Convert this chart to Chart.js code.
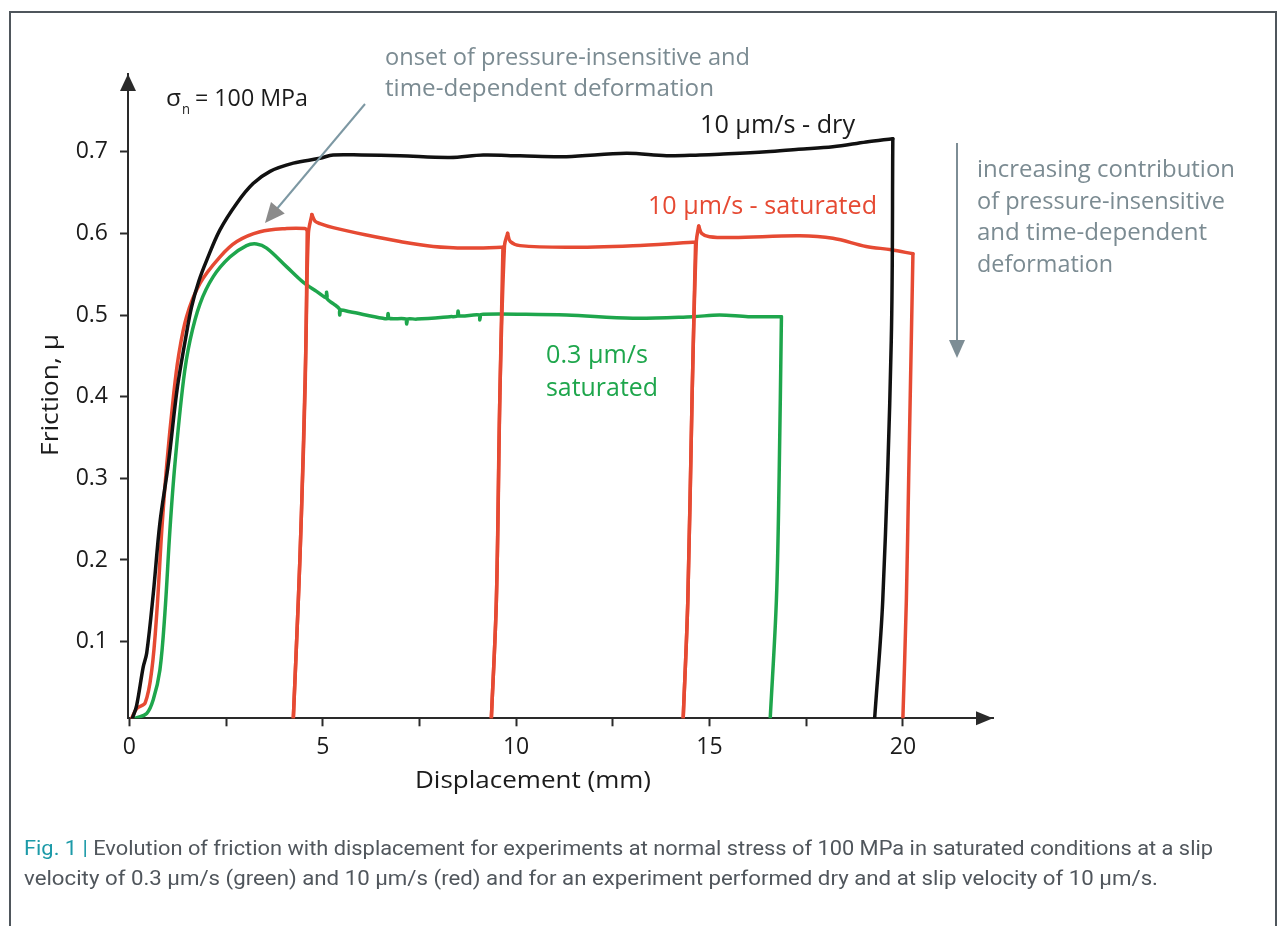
<!DOCTYPE html>
<html>
<head>
<meta charset="utf-8">
<title>Friction vs displacement</title>
<script src="https://cdn.jsdelivr.net/npm/chart.js@4.4.1/dist/chart.umd.min.js"></script>
<style>
  html, body { margin: 0; padding: 0; background: #ffffff; }
  body { width: 1277px; height: 926px; position: relative; overflow: hidden; }
  #frame { position: absolute; left: 9px; top: 11px; width: 1268px; height: 1000px;
           border: 2px solid #4f565c; box-sizing: border-box; }
  #plot { position: absolute; left: 0; top: 0; }
  .cap { position: absolute; left: 24px; font-family: Roboto, "DejaVu Sans", sans-serif;
         font-size: 21px; line-height: 24px; color: #50565c; white-space: nowrap;
         transform-origin: 0 0; display: inline-block; }
  .cap .fig { color: #1c9aa8; }
</style>
</head>
<body>
<div id="frame"></div>
<canvas id="plot" width="1277" height="926"></canvas>
<div class="cap" id="cap1" data-w="1189" style="top:836px"><span class="fig">Fig. 1 |</span> Evolution of friction with displacement for experiments at normal stress of 100 MPa in saturated conditions at a slip</div>
<div class="cap" id="cap2" data-w="1134" style="top:866px">velocity of 0.3 μm/s (green) and 10 μm/s (red) and for an experiment performed dry and at slip velocity of 10 μm/s.</div>
<script>
// ---- data: displacement (mm) and friction coefficient for each run ----
const dryX  = [0.08, 0.19, 0.36, 0.45, 0.62, 0.79, 1.01, 1.18, 1.27, 1.45,
               1.61, 1.80, 2.00, 2.34, 2.78, 3.20, 3.64, 4.24, 4.93, 5.27,
               6.00, 7.00, 8.29, 9.15, 10.10, 11.30, 12.85, 13.89, 14.75, 15.26,
               16.47, 17.30, 18.19, 19.05, 19.74, 19.70, 19.48, 19.27];
const dryMu = [0.006, 0.022, 0.069, 0.086, 0.159, 0.245, 0.318, 0.388, 0.420, 0.470,
               0.510, 0.542, 0.567, 0.604, 0.637, 0.661, 0.676, 0.686, 0.692, 0.696,
               0.696, 0.695, 0.693, 0.696, 0.695, 0.694, 0.698, 0.695, 0.696, 0.697,
               0.700, 0.703, 0.706, 0.712, 0.716, 0.469, 0.151, 0.006];
const dryCorners = [34];

const satX  = [0.06, 0.19, 0.41, 0.58, 0.71, 0.84, 0.97, 1.14, 1.27, 1.48,
               1.83, 2.34, 2.78, 3.38, 4.07, 4.54, 4.60, 4.55, 4.45, 4.37,
               4.24, 4.37, 4.45, 4.56, 4.63, 4.72, 4.80, 4.93, 5.27, 6.13,
               7.00, 7.86, 8.72, 9.62, 9.66, 9.58, 9.49, 9.36, 9.49, 9.58,
               9.70, 9.78, 9.85, 10.10, 11.30, 13.02, 14.57, 14.64, 14.55, 14.44,
               14.32, 14.44, 14.55, 14.66, 14.72, 14.80, 15.00, 15.60, 17.33, 18.19,
               19.05, 19.70, 20.26, 20.15, 20.09, 20.00];
const satMu = [0.006, 0.018, 0.025, 0.065, 0.135, 0.237, 0.318, 0.400, 0.449, 0.498,
               0.539, 0.571, 0.590, 0.602, 0.606, 0.606, 0.604, 0.420, 0.257, 0.151,
               0.006, 0.151, 0.257, 0.450, 0.600, 0.623, 0.615, 0.612, 0.607, 0.598,
               0.590, 0.584, 0.582, 0.583, 0.583, 0.400, 0.151, 0.006, 0.151, 0.400,
               0.585, 0.600, 0.590, 0.585, 0.583, 0.585, 0.589, 0.589, 0.400, 0.151,
               0.006, 0.151, 0.400, 0.590, 0.609, 0.600, 0.596, 0.595, 0.597, 0.594,
               0.584, 0.580, 0.575, 0.300, 0.151, 0.006];
const satCorners = [16, 20, 25, 34, 37, 41, 47, 50, 54, 62];

const slowX  = [0.15, 0.45, 0.62, 0.79, 0.92, 1.05, 1.18, 1.40, 1.57, 1.83,
                2.17, 2.60, 3.03, 3.29, 3.55, 4.07, 4.50, 4.84, 5.10, 5.10,
                5.11, 5.27, 5.44, 5.44, 5.45, 5.70, 6.56, 6.69, 6.69, 6.70,
                7.17, 7.17, 7.18, 7.43, 8.29, 8.50, 8.50, 8.51, 9.06, 9.06,
                9.07, 9.15, 10.10, 11.30, 13.02, 14.57, 15.26, 16.00, 16.86, 16.80,
                16.73, 16.57];
const slowMu = [0.006, 0.012, 0.029, 0.065, 0.135, 0.237, 0.318, 0.420, 0.469, 0.514,
                0.547, 0.571, 0.585, 0.587, 0.582, 0.559, 0.540, 0.529, 0.521, 0.528,
                0.520, 0.514, 0.507, 0.500, 0.506, 0.504, 0.496, 0.496, 0.502, 0.496,
                0.495, 0.489, 0.495, 0.495, 0.498, 0.499, 0.505, 0.499, 0.500, 0.494,
                0.500, 0.501, 0.501, 0.500, 0.496, 0.498, 0.500, 0.498, 0.498, 0.300,
                0.151, 0.006];
const slowCorners = [48];

const xTickValues  = [0, 2.5, 5, 7.5, 10, 12.5, 15, 17.5, 20];
const xLabelValues = [0, 5, 10, 15, 20];
const yTickValues  = [0.1, 0.2, 0.3, 0.4, 0.5, 0.6, 0.7];

// ---- styling ----
const FONT  = '"Open Sans", "DejaVu Sans", sans-serif';
const INK   = '#1b1b1b';
const AXIS  = '#2a2a2a';
const RED   = '#e64a33';
const GREEN = '#1ea64c';
const GRAY  = '#7b8b92';

const pts = (xs, ys) => xs.map((x, i) => ({ x: x, y: ys[i] }));

// a run is drawn as smooth pieces joined at its sharp corners (load drops / peaks)
function pieces(label, xs, ys, corners, color) {
  const all = pts(xs, ys);
  const cuts = [0].concat(corners, [all.length - 1]);
  const out = [];
  for (let k = 0; k < cuts.length - 1; k++) {
    out.push({
      label: label, data: all.slice(cuts[k], cuts[k + 1] + 1),
      borderColor: color, pointRadius: 0, borderWidth: 3.5, tension: 0.35, fill: false,
      borderJoinStyle: 'round', borderCapStyle: 'round'
    });
  }
  return out;
}

function fitText(ctx, text, x, y, width, size, color) {
  ctx.save();
  ctx.font = size + 'px ' + FONT;
  ctx.fillStyle = color;
  ctx.textAlign = 'left';
  ctx.textBaseline = 'alphabetic';
  const w = ctx.measureText(text).width;
  ctx.translate(x, y);
  ctx.scale(width / w, 1);
  ctx.fillText(text, 0, 0);
  ctx.restore();
}

function arrowHead(ctx, tipX, tipY, dx, dy, len, half, color) {
  const n = Math.hypot(dx, dy); const ux = dx / n, uy = dy / n;
  const bx = tipX - ux * len, by = tipY - uy * len;
  ctx.beginPath();
  ctx.moveTo(tipX, tipY);
  ctx.lineTo(bx - uy * half, by + ux * half);
  ctx.lineTo(bx + uy * half, by - ux * half);
  ctx.closePath();
  ctx.fillStyle = color;
  ctx.fill();
}

// labels placed on the figure (left x, baseline y, text width, font size)
const notes = [
  { t: 'onset of pressure-insensitive and', x: 385, y: 65,  w: 365, s: 24, c: GRAY },
  { t: 'time-dependent deformation',        x: 385, y: 96,  w: 329, s: 24, c: GRAY },
  { t: '10 μm/s - dry',                     x: 700, y: 133, w: 155, s: 25, c: INK },
  { t: '10 μm/s - saturated',               x: 648, y: 214, w: 229, s: 25, c: RED },
  { t: '0.3 μm/s',                          x: 546, y: 363, w: 102, s: 25, c: GREEN },
  { t: 'saturated',                         x: 546, y: 396, w: 112, s: 25, c: GREEN },
  { t: 'increasing contribution',           x: 977, y: 177, w: 258, s: 24, c: GRAY },
  { t: 'of pressure-insensitive',           x: 977, y: 209, w: 248, s: 24, c: GRAY },
  { t: 'and time-dependent',                x: 977, y: 240, w: 230, s: 24, c: GRAY },
  { t: 'deformation',                       x: 977, y: 272, w: 136, s: 24, c: GRAY },
  { t: 'Displacement (mm)',                 x: 415, y: 788, w: 236, s: 24, c: INK }
];

const decorations = {
  id: 'decorations',
  afterDraw(chart) {
    const ctx = chart.ctx;
    const a = chart.chartArea;

    // arrow tips on both axes
    arrowHead(ctx, a.left, a.top, 0, -1, 17, 8, AXIS);
    arrowHead(ctx, a.right, a.bottom, 1, 0, 17, 7, AXIS);

    // axis title on the friction axis
    ctx.save();
    ctx.translate(58, 456);
    ctx.rotate(-Math.PI / 2);
    fitText(ctx, 'Friction, μ', 0, 0, 122, 24, INK);
    ctx.restore();

    // normal stress label with subscript
    fitText(ctx, 'σ', 166, 106, 15, 24, INK);
    fitText(ctx, 'n', 182, 114, 8, 14, INK);
    fitText(ctx, '= 100 MPa', 195, 106, 113, 24, INK);

    notes.forEach(n => fitText(ctx, n.t, n.x, n.y, n.w, n.s, n.c));

    // pointer to the onset of time-dependent deformation
    ctx.save();
    const sx = 365, sy = 104, tx = 265, ty = 223;
    const dx = tx - sx, dy = ty - sy, d = Math.hypot(dx, dy);
    ctx.strokeStyle = '#7d98a3';
    ctx.lineWidth = 2;
    ctx.beginPath();
    ctx.moveTo(sx, sy);
    ctx.lineTo(tx - dx / d * 16, ty - dy / d * 16);
    ctx.stroke();
    arrowHead(ctx, tx, ty, dx, dy, 20, 9, '#8b8b8b');

    // downward trend arrow on the right
    ctx.strokeStyle = '#7d8d95';
    ctx.beginPath();
    ctx.moveTo(957, 143);
    ctx.lineTo(957, 342);
    ctx.stroke();
    arrowHead(ctx, 957, 358, 0, 1, 18, 8, '#7d8d95');
    ctx.restore();
  }
};

new Chart(document.getElementById('plot'), {
  type: 'line',
  data: {
    datasets: [].concat(
      pieces('10 μm/s - dry', dryX, dryMu, dryCorners, '#111111'),
      pieces('10 μm/s - saturated', satX, satMu, satCorners, RED),
      pieces('0.3 μm/s saturated', slowX, slowMu, slowCorners, GREEN)
    )
  },
  options: {
    responsive: false,
    animation: false,
    devicePixelRatio: 1,
    layout: { padding: { left: 0, top: 74, right: 284, bottom: 0 } },
    plugins: { legend: { display: false }, tooltip: { enabled: false } },
    scales: {
      x: {
        type: 'linear', min: -0.034, max: 22.33,
        afterBuildTicks: s => { s.ticks = xTickValues.map(v => ({ value: v })); },
        afterFit: s => { s.height = 207.7; },
        ticks: {
          autoSkip: false, maxRotation: 0, padding: 7, color: INK,
          font: { family: FONT, size: 23 },
          callback: v => (xLabelValues.includes(v) ? String(v) : '')
        },
        grid: { drawOnChartArea: false, drawTicks: true, tickLength: 8, tickWidth: 2, tickColor: AXIS },
        border: { color: AXIS, width: 2 }
      },
      y: {
        type: 'linear', min: 0.0061, max: 0.7952,
        afterBuildTicks: s => { s.ticks = yTickValues.map(v => ({ value: v })); },
        afterFit: s => { s.width = 128; },
        ticks: {
          padding: 12, color: INK,
          font: { family: FONT, size: 23 },
          callback: v => v.toFixed(1)
        },
        grid: { drawOnChartArea: false, drawTicks: true, tickLength: 8, tickWidth: 2, tickColor: AXIS },
        border: { color: AXIS, width: 2 }
      }
    }
  },
  plugins: [decorations]
});

// stretch each caption line to its column width
document.querySelectorAll('.cap').forEach(el => {
  const w = el.getBoundingClientRect().width;
  el.style.transform = 'scaleX(' + (parseFloat(el.dataset.w) / w) + ')';
});
</script>
</body>
</html>
